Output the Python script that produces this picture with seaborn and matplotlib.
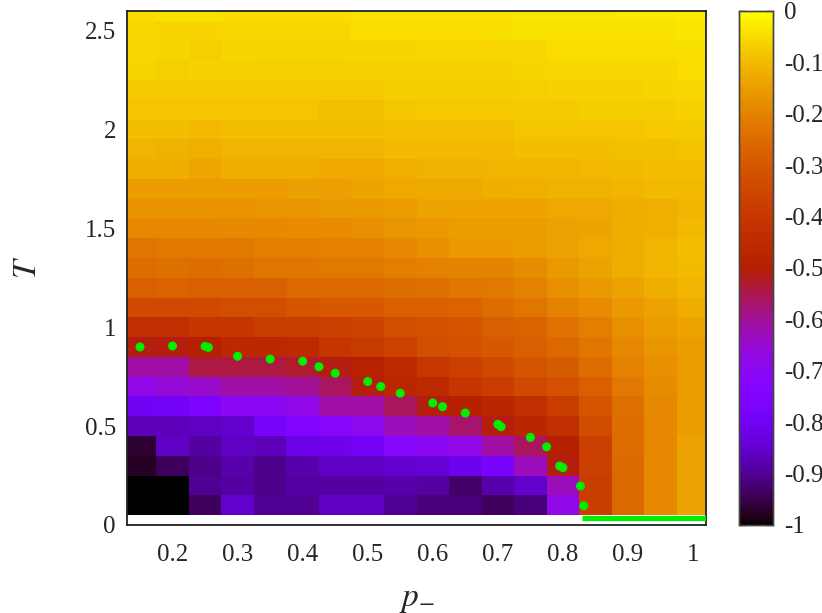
import numpy as np
import pandas as pd
import matplotlib
matplotlib.use("Agg")
import matplotlib.pyplot as plt
import seaborn as sns

# grid of the heat map
p_values = [0.15, 0.20, 0.25, 0.30, 0.35, 0.40, 0.45, 0.50, 0.55,
            0.60, 0.65, 0.70, 0.75, 0.80, 0.85, 0.90, 0.95, 1.00]
T_values = [2.6, 2.5, 2.4, 2.3, 2.2, 2.1, 2.0, 1.9, 1.8, 1.7, 1.6, 1.5, 1.4,
            1.3, 1.2, 1.1, 1.0, 0.9, 0.8, 0.7, 0.6, 0.5, 0.4, 0.3, 0.2, 0.1]

# cell values, one row per temperature (top to bottom)
energy = [
    [-0.05, -0.04, -0.04, -0.045, -0.045, -0.045, -0.045, -0.04, -0.04, -0.04, -0.04, -0.04, -0.037, -0.037, -0.037, -0.035, -0.035, -0.03],
    [-0.055, -0.06, -0.06, -0.055, -0.055, -0.055, -0.055, -0.05, -0.048, -0.048, -0.048, -0.045, -0.042, -0.042, -0.042, -0.042, -0.042, -0.037],
    [-0.055, -0.06, -0.07, -0.06, -0.06, -0.06, -0.06, -0.06, -0.06, -0.055, -0.055, -0.055, -0.055, -0.05, -0.048, -0.048, -0.048, -0.045],
    [-0.06, -0.07, -0.066, -0.066, -0.07, -0.07, -0.07, -0.066, -0.066, -0.066, -0.066, -0.066, -0.06, -0.055, -0.055, -0.055, -0.055, -0.05],
    [-0.075, -0.08, -0.075, -0.078, -0.078, -0.078, -0.078, -0.078, -0.072, -0.072, -0.072, -0.072, -0.07, -0.066, -0.066, -0.066, -0.062, -0.058],
    [-0.085, -0.085, -0.085, -0.085, -0.085, -0.085, -0.09, -0.09, -0.084, -0.08, -0.08, -0.08, -0.078, -0.078, -0.072, -0.072, -0.072, -0.066],
    [-0.097, -0.097, -0.103, -0.097, -0.097, -0.097, -0.097, -0.095, -0.09, -0.09, -0.09, -0.09, -0.085, -0.084, -0.084, -0.084, -0.08, -0.078],
    [-0.11, -0.115, -0.12, -0.11, -0.11, -0.11, -0.11, -0.11, -0.105, -0.103, -0.103, -0.103, -0.097, -0.097, -0.097, -0.09, -0.09, -0.088],
    [-0.125, -0.125, -0.135, -0.125, -0.125, -0.125, -0.13, -0.13, -0.118, -0.116, -0.116, -0.11, -0.11, -0.11, -0.105, -0.1, -0.097, -0.095],
    [-0.15, -0.15, -0.15, -0.15, -0.15, -0.145, -0.145, -0.14, -0.13, -0.13, -0.13, -0.123, -0.118, -0.116, -0.116, -0.11, -0.105, -0.103],
    [-0.17, -0.17, -0.17, -0.17, -0.165, -0.165, -0.16, -0.16, -0.15, -0.144, -0.14, -0.137, -0.137, -0.13, -0.13, -0.125, -0.12, -0.11],
    [-0.19, -0.19, -0.19, -0.185, -0.185, -0.18, -0.18, -0.175, -0.166, -0.16, -0.15, -0.15, -0.15, -0.144, -0.137, -0.123, -0.118, -0.103],
    [-0.23, -0.22, -0.22, -0.22, -0.21, -0.21, -0.205, -0.205, -0.19, -0.175, -0.16, -0.16, -0.15, -0.144, -0.13, -0.123, -0.11, -0.097],
    [-0.25, -0.24, -0.25, -0.24, -0.23, -0.23, -0.22, -0.22, -0.21, -0.205, -0.2, -0.2, -0.18, -0.158, -0.144, -0.123, -0.11, -0.1],
    [-0.28, -0.27, -0.28, -0.28, -0.28, -0.26, -0.26, -0.26, -0.25, -0.24, -0.23, -0.22, -0.205, -0.173, -0.158, -0.144, -0.123, -0.11],
    [-0.34, -0.34, -0.34, -0.33, -0.33, -0.31, -0.30, -0.30, -0.28, -0.28, -0.27, -0.25, -0.23, -0.20, -0.18, -0.158, -0.144, -0.123],
    [-0.43, -0.43, -0.41, -0.41, -0.38, -0.38, -0.37, -0.36, -0.33, -0.32, -0.31, -0.28, -0.27, -0.235, -0.21, -0.173, -0.15, -0.137],
    [-0.51, -0.51, -0.50, -0.46, -0.46, -0.45, -0.41, -0.39, -0.36, -0.33, -0.32, -0.30, -0.28, -0.26, -0.23, -0.19, -0.166, -0.15],
    [-0.61, -0.61, -0.54, -0.54, -0.54, -0.53, -0.51, -0.49, -0.45, -0.40, -0.37, -0.34, -0.31, -0.29, -0.25, -0.205, -0.173, -0.15],
    [-0.68, -0.66, -0.645, -0.61, -0.61, -0.60, -0.56, -0.51, -0.47, -0.45, -0.41, -0.38, -0.34, -0.32, -0.28, -0.22, -0.18, -0.15],
    [-0.80, -0.79, -0.76, -0.70, -0.70, -0.68, -0.61, -0.61, -0.56, -0.51, -0.50, -0.47, -0.43, -0.38, -0.31, -0.24, -0.19, -0.15],
    [-0.87, -0.87, -0.86, -0.85, -0.78, -0.75, -0.73, -0.69, -0.63, -0.61, -0.57, -0.51, -0.47, -0.43, -0.335, -0.25, -0.19, -0.15],
    [-0.965, -0.86, -0.89, -0.86, -0.87, -0.82, -0.81, -0.79, -0.72, -0.70, -0.68, -0.61, -0.56, -0.50, -0.37, -0.25, -0.19, -0.144],
    [-0.975, -0.94, -0.91, -0.88, -0.91, -0.88, -0.86, -0.86, -0.85, -0.84, -0.81, -0.77, -0.63, -0.51, -0.37, -0.26, -0.19, -0.144],
    [-1.0, -1.0, -0.90, -0.89, -0.91, -0.89, -0.89, -0.89, -0.88, -0.89, -0.93, -0.88, -0.85, -0.63, -0.38, -0.26, -0.19, -0.144],
    [-1.0, -1.0, -0.94, -0.85, -0.90, -0.90, -0.86, -0.86, -0.90, -0.92, -0.92, -0.94, -0.92, -0.68, -0.38, -0.26, -0.19, -0.144],
]

# transition points (green dots)
dot_p = [0.15, 0.20, 0.25, 0.255, 0.30, 0.35, 0.40, 0.425, 0.45, 0.50, 0.52, 0.55,
         0.60, 0.615, 0.65, 0.70, 0.705, 0.75, 0.775, 0.795, 0.80, 0.827, 0.832]
dot_T = [0.90, 0.905, 0.903, 0.898, 0.853, 0.839, 0.828, 0.80, 0.767, 0.725, 0.70, 0.666,
         0.617, 0.598, 0.566, 0.509, 0.497, 0.443, 0.395, 0.298, 0.29, 0.197, 0.097]

# ground-state line
line_p = [0.83, 1.02]
line_T = [0.035, 0.035]

x_ticks = [0.2, 0.3, 0.4, 0.5, 0.6, 0.7, 0.8, 0.9, 1.0]
y_ticks = [0, 0.5, 1, 1.5, 2, 2.5]
cbar_ticks = [-1, -0.9, -0.8, -0.7, -0.6, -0.5, -0.4, -0.3, -0.2, -0.1, 0]

sns.set_style("white")
plt.rcParams["font.family"] = ["Liberation Serif", "DejaVu Serif"]
plt.rcParams["mathtext.fontset"] = "stix"
plt.rcParams["axes.unicode_minus"] = False

df = pd.DataFrame(energy, index=T_values, columns=p_values)

fig = plt.figure(figsize=(8.22, 6.13), dpi=100)
pos = [0.1545, 0.1436, 0.7044, 0.8389]
ax_hm = fig.add_axes(pos)
cax = fig.add_axes([0.899, 0.1436, 0.0414, 0.8389])

sns.heatmap(df, ax=ax_hm, cmap="gnuplot", vmin=-1, vmax=0, cbar_ax=cax,
            xticklabels=False, yticklabels=False)
# heat map cells are index based: put p = 0.13..1.02, T = 0..2.6 in view
ax_hm.set_xlim((0.13 - p_values[0]) / 0.05 + 0.5, (1.02 - p_values[0]) / 0.05 + 0.5)
ax_hm.set_ylim((T_values[0] + 0.05) / 0.1, (T_values[0] + 0.05 - 2.6) / 0.1)
ax_hm.set_xlabel("")
ax_hm.set_ylabel("")
ax_hm.tick_params(left=False, bottom=False)
for s in ax_hm.spines.values():
    s.set_visible(False)

# overlay axes in real data units
ax = fig.add_axes(pos, facecolor="none")
ax.set_xlim(0.13, 1.02)
ax.set_ylim(0, 2.6)
ax.scatter(dot_p, dot_T, s=42, color="#00ee00", edgecolors="none", zorder=5)
ax.plot(line_p, line_T, color="#00ee00", lw=3.8, solid_capstyle="butt", zorder=5)

ax.set_xticks(x_ticks)
ax.set_xticklabels([f"{v:g}" for v in x_ticks])
ax.set_yticks(y_ticks)
ax.set_yticklabels([f"{v:g}" for v in y_ticks])
ax.tick_params(axis="x", direction="in", length=6, width=1, color="#777777",
               pad=14, labelsize=18, top=False)
ax.tick_params(axis="y", direction="in", length=0, pad=8, labelsize=18)
for s in ax.spines.values():
    s.set_visible(True)
    s.set_color("#222222")
    s.set_linewidth(1.3)

ax.set_xlabel("$p_{-}$", fontsize=24)
ax.set_ylabel("$T$", fontsize=24)
ax.xaxis.set_label_coords(0.5, -0.115)
ax.yaxis.set_label_coords(-0.145, 0.5)

cax.set_yticks(cbar_ticks)
cax.set_yticklabels(["0" if v == 0 else f"{v:g}" for v in cbar_ticks])
cax.tick_params(axis="y", direction="in", length=5, width=1, color="#333333",
                left=True, right=True, labelleft=False, labelright=True,
                pad=8, labelsize=18)
for s in cax.spines.values():
    s.set_visible(True)
    s.set_color("#444444")
    s.set_linewidth(1.0)

fig.savefig("out.png", dpi=100)
